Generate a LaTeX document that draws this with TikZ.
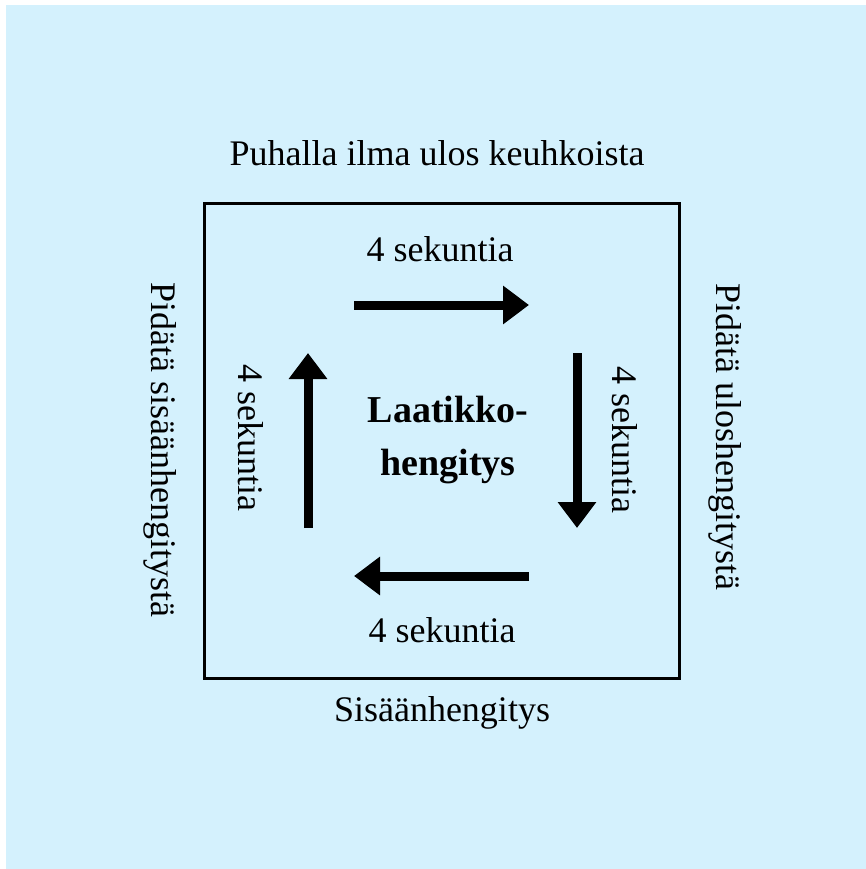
\documentclass[tikz,border=0pt]{standalone}
\usepackage{fontspec}
\setmainfont{Liberation Serif}
\usetikzlibrary{arrows.meta}
\definecolor{bgblue}{RGB}{212,241,253}
\tikzset{
  lbl/.style={font=\fontsize{36}{43}\selectfont, text=black, inner sep=0pt, anchor=center},
  bigarrow/.style={line width=9pt, -{Triangle[length=26pt,width=37pt]}},
}
\begin{document}
\begin{tikzpicture}[x=1pt,y=-1pt]
\path[use as bounding box, fill=white] (0,0) rectangle (866,869);
\fill[bgblue] (6,5) rectangle (866,869);
\draw[line width=3pt] (204,203) rectangle (679,678);
% outer labels
\node[lbl] (top) at (437,153) {Puhalla ilma ulos keuhkoista};
\node[lbl] (bottom) at (442,713) {Sisäänhengitys};
\node[lbl, rotate=-90] (left) at (160,450) {Pidätä sisäänhengitystä};
\node[lbl, rotate=-90] (right) at (725,437) {Pidätä uloshengitystä};
% inner labels
\node[lbl] (t4) at (440,249) {4 sekuntia};
\node[lbl] (b4) at (442,630) {4 sekuntia};
\node[lbl, rotate=-90] (l4) at (251,438) {4 sekuntia};
\node[lbl, rotate=-90] (r4) at (625,440) {4 sekuntia};
\node[lbl, font=\fontsize{38}{53}\selectfont\bfseries, align=center] (center) at (448,440) {Laatikko-\\hengitys};
% arrows
\coordinate (a1s) at (354,305); \coordinate (a1e) at (529,305);
\coordinate (a2s) at (577,353); \coordinate (a2e) at (577,528);
\coordinate (a3s) at (529,576); \coordinate (a3e) at (354,576);
\coordinate (a4s) at (308,528); \coordinate (a4e) at (308,353);
\draw[bigarrow] (a1s) -- (a1e);
\draw[bigarrow] (a2s) -- (a2e);
\draw[bigarrow] (a3s) -- (a3e);
\draw[bigarrow] (a4s) -- (a4e);
\end{tikzpicture}
\end{document}
